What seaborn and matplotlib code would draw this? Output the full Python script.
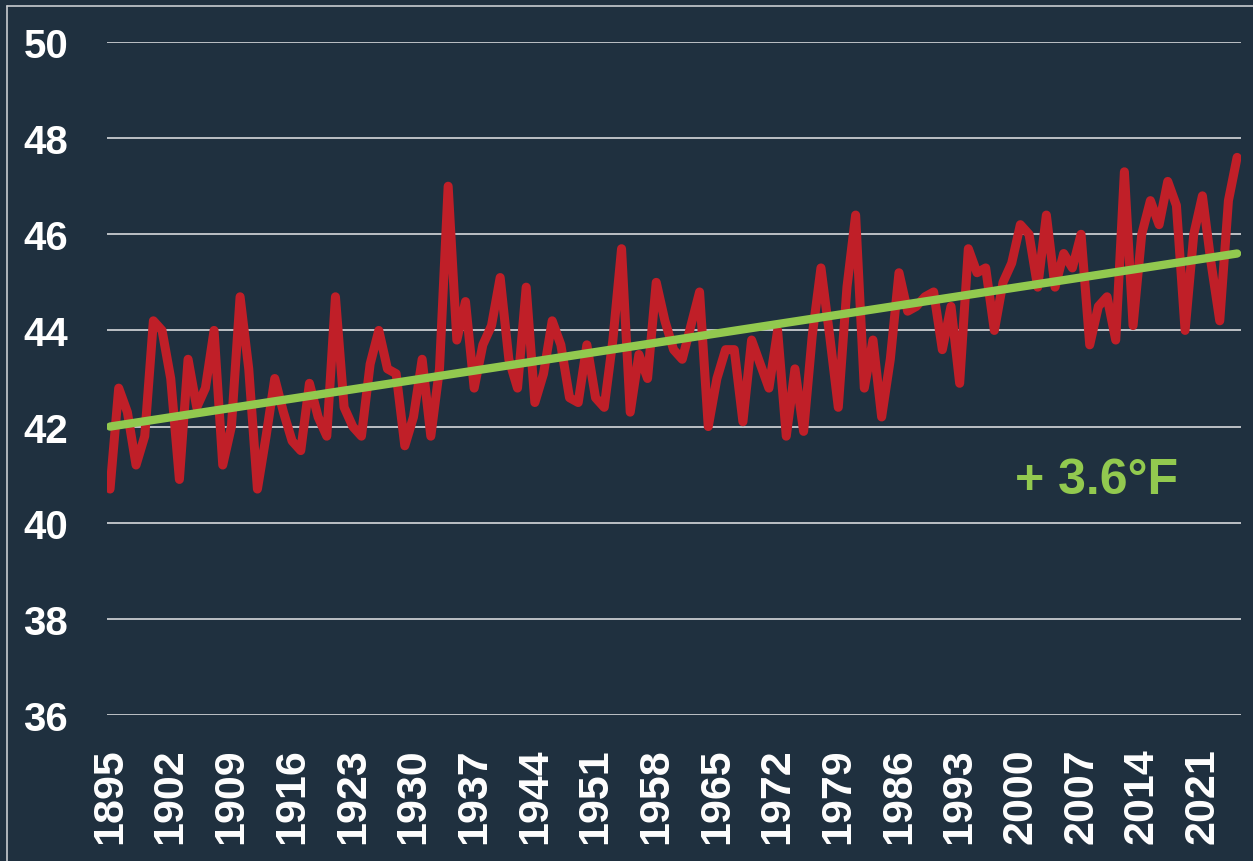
import numpy as np
import pandas as pd
import seaborn as sns
import matplotlib
matplotlib.use("Agg")
import matplotlib.pyplot as plt
from matplotlib.lines import Line2D

# ---- data ----
years = list(range(1895, 2026))
temps = [
    40.7, 42.8, 42.3, 41.2, 41.8, 44.2, 44.0, 43.0, 40.9, 43.4,   # 1895-1904
    42.4, 42.8, 44.0, 41.2, 42.0, 44.7, 43.2, 40.7, 41.8, 43.0,   # 1905-1914
    42.3, 41.7, 41.5, 42.9, 42.2, 41.8, 44.7, 42.4, 42.0, 41.8,   # 1915-1924
    43.3, 44.0, 43.2, 43.1, 41.6, 42.2, 43.4, 41.8, 43.2, 47.0,   # 1925-1934
    43.8, 44.6, 42.8, 43.7, 44.1, 45.1, 43.4, 42.8, 44.9, 42.5,   # 1935-1944
    43.1, 44.2, 43.7, 42.6, 42.5, 43.7, 42.6, 42.4, 43.8, 45.7,   # 1945-1954
    42.3, 43.5, 43.0, 45.0, 44.2, 43.6, 43.4, 44.1, 44.8, 42.0,   # 1955-1964
    43.0, 43.6, 43.6, 42.1, 43.8, 43.3, 42.8, 44.0, 41.8, 43.2,   # 1965-1974
    41.9, 43.9, 45.3, 43.9, 42.4, 44.9, 46.4, 42.8, 43.8, 42.2,   # 1975-1984
    43.4, 45.2, 44.4, 44.5, 44.7, 44.8, 43.6, 44.5, 42.9, 45.7,   # 1985-1994
    45.2, 45.3, 44.0, 45.0, 45.4, 46.2, 46.0, 44.9, 46.4, 44.9,   # 1995-2004
    45.6, 45.3, 46.0, 43.7, 44.5, 44.7, 43.8, 47.3, 44.1, 46.0,   # 2005-2014
    46.7, 46.2, 47.1, 46.6, 44.0, 46.0, 46.8, 45.4, 44.2, 46.7,   # 2015-2024
    47.6,                                                         # 2025
]
trend_years = [1895, 2025]
trend_values = [42.0, 45.6]
xtick_years = list(range(1895, 2022, 7))
ytick_values = [36, 38, 40, 42, 44, 46, 48, 50]
annotation = "+ 3.6\u00b0F"

df = pd.DataFrame({"year": years, "temp": temps})
trend_df = pd.DataFrame({"year": trend_years, "temp": trend_values})

# ---- style ----
BG = "#1F303F"
RED = "#C01F28"
GREEN = "#92C94F"
GRID = "#D6D9DC"

sns.set_theme(style="dark")
plt.rcParams["font.family"] = ["Liberation Sans", "DejaVu Sans"]
plt.rcParams["font.weight"] = "bold"

fig = plt.figure(figsize=(12.53, 8.62), dpi=100, facecolor=BG)
ax = fig.add_axes([107 / 1253, 1 - 716 / 862, (1241 - 107) / 1253, (716 - 43) / 862])
ax.set_facecolor(BG)

sns.lineplot(data=df, x="year", y="temp", ax=ax, color=RED, linewidth=6.5,
             solid_joinstyle="round", solid_capstyle="round", zorder=3)
sns.lineplot(data=trend_df, x="year", y="temp", ax=ax, color=GREEN, linewidth=6.0,
             solid_capstyle="round", zorder=4)

ax.set_xlim(1894.65, 2025.45)
ax.set_ylim(36, 50)
ax.set_yticks(ytick_values)
ax.set_yticklabels([str(v) for v in ytick_values])
ax.set_xticks(xtick_years)
ax.set_xticklabels([str(v) for v in xtick_years], rotation=90)

ax.grid(False)
ax.yaxis.grid(True, color=GRID, linewidth=1.2)
ax.set_axisbelow(True)
for s in ax.spines.values():
    s.set_visible(False)

ax.tick_params(axis="y", length=0, pad=28, labelsize=29, labelcolor="white")
ax.tick_params(axis="x", length=0, pad=23, labelsize=31, labelcolor="white")
for lab in ax.get_xticklabels() + ax.get_yticklabels():
    lab.set_fontweight("bold")

ax.set_xlabel("")
ax.set_ylabel("")

ax.text(2008.8, 40.89, annotation, color=GREEN, fontsize=36, fontweight="bold",
        ha="center", va="center", zorder=5)

# thin frame (left and top edges visible)
fig.add_artist(Line2D([7 / 1253, 7 / 1253], [0, 1 - 7 / 862], transform=fig.transFigure,
                      color="#C8CCD0", linewidth=1.2))
fig.add_artist(Line2D([7 / 1253, 1], [1 - 7 / 862, 1 - 7 / 862], transform=fig.transFigure,
                      color="#C8CCD0", linewidth=1.2))

fig.savefig("out.png", dpi=100, facecolor=BG)
